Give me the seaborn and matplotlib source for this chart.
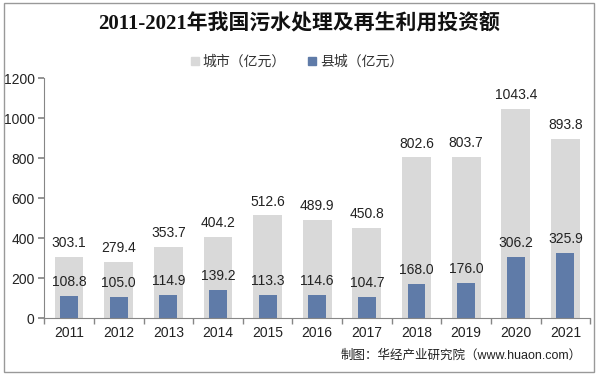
import matplotlib
matplotlib.use("Agg")
import matplotlib.pyplot as plt
import seaborn as sns
from matplotlib.patches import Patch, Rectangle

years = ["2011", "2012", "2013", "2014", "2015", "2016",
         "2017", "2018", "2019", "2020", "2021"]
city = [303.1, 279.4, 353.7, 404.2, 512.6, 489.9,
        450.8, 802.6, 803.7, 1043.4, 893.8]
county = [108.8, 105.0, 114.9, 139.2, 113.3, 114.6,
          104.7, 168.0, 176.0, 306.2, 325.9]

city_color = "#d9d9d9"
county_color = "#5f7ba8"
axis_color = "#868686"

sns.set_theme(style="white")
plt.rcParams["font.family"] = ["Liberation Sans", "Noto Sans CJK SC"]

fig = plt.figure(figsize=(5.98, 3.75), dpi=100)
ax = fig.add_axes([0.074, 0.152, 0.913, 0.64])

sns.barplot(x=years, y=city, color=city_color, width=0.58,
            saturation=1, linewidth=0, ax=ax)
sns.barplot(x=years, y=county, color=county_color, width=0.36,
            saturation=1, linewidth=0, ax=ax)

ax.bar_label(ax.containers[0], fmt="%.1f", padding=5, fontsize=10, color="#222222")
ax.bar_label(ax.containers[1], fmt="%.1f", padding=5, fontsize=10, color="#222222")

ax.set_ylim(0, 1200)
ax.set_yticks(range(0, 1201, 200))
ax.set_xlim(-0.5, len(years) - 0.5)
ax.set_xticks(range(len(years)))
ax.set_xticklabels(years)
ax.tick_params(axis="both", labelsize=10, colors="#222222", length=0, pad=6)
ax.tick_params(axis="y", length=4, color=axis_color, direction="out", left=True, pad=3)

# category boundary ticks under the x axis
ax.set_xticks([i - 0.5 for i in range(len(years) + 1)], minor=True)
ax.tick_params(axis="x", which="minor", length=4, color=axis_color, direction="out", bottom=True)

for side in ["top", "right"]:
    ax.spines[side].set_visible(False)
for side in ["left", "bottom"]:
    ax.spines[side].set_color(axis_color)
    ax.spines[side].set_linewidth(0.8)

fig.text(0.5, 0.935, "2011-2021年我国污水处理及再生利用投资额",
         ha="center", va="center", fontsize=15, fontweight="bold",
         family=["Liberation Serif", "Noto Sans CJK SC"], color="#111111")

handles = [Patch(color=city_color, label="城市（亿元）"),
           Patch(color=county_color, label="县城（亿元）")]
fig.legend(handles=handles, loc="center", bbox_to_anchor=(0.497, 0.835), ncol=2,
           frameon=False, fontsize=10, handlelength=0.55, handleheight=0.55,
           handletextpad=0.3, columnspacing=1.6, labelcolor="#333333")

fig.text(0.973, 0.053, "制图：华经产业研究院（www.huaon.com）", ha="right",
         va="center", fontsize=9, color="#222222")

fig.patches.append(Rectangle((0.006, 0.008), 0.988, 0.984, transform=fig.transFigure,
                             fill=False, edgecolor="#999999", linewidth=1))

fig.savefig("out.png", dpi=100)
